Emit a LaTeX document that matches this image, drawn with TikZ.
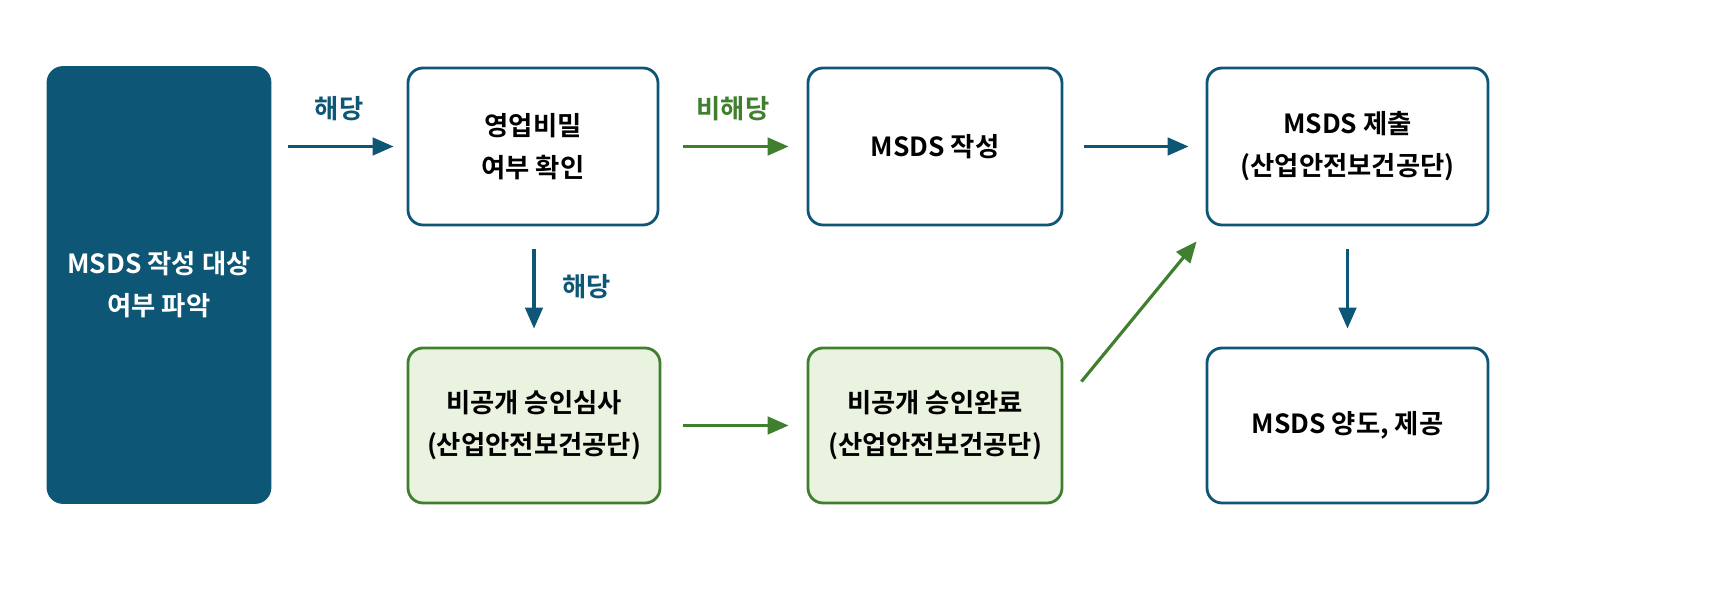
\documentclass[tikz,border=0pt]{standalone}
\usepackage{fontspec}
\setmainfont{Noto Sans CJK KR}[BoldFont={Noto Sans CJK KR Bold}]
\usetikzlibrary{arrows.meta}
\definecolor{navy}{HTML}{0E5676}
\definecolor{leaf}{HTML}{3F7F2E}
\definecolor{paleleaf}{HTML}{EAF2E0}
\tikzset{% common styles of the flow chart
  stage/.style   = {shape=rectangle, rounded corners=0.15cm, draw=navy,
                    line width=0.8pt, fill=white, align=center,
                    font=\fontsize{7.5}{12}\selectfont\bfseries},
  start/.style   = {stage, fill=navy, text=white},
  review/.style  = {stage, draw=leaf, fill=paleleaf},
  bluearr/.style = {draw=navy, line width=0.9pt, -{Triangle[length=6pt,width=5pt]}},
  greenarr/.style= {draw=leaf, line width=0.9pt, -{Triangle[length=6pt,width=5pt]}},
  tag/.style     = {font=\fontsize{7.5}{10}\selectfont\bfseries},
}
\begin{document}
\begin{tikzpicture}
  \useasboundingbox (0,0) rectangle (17.11,6);
  % boxes
  \node [start, minimum width=2.22cm, minimum height=4.35cm] (target) at (1.59,3.15)
        {MSDS 작성 대상\\여부 파악};
  \node [stage, minimum width=2.5cm, minimum height=1.57cm] (secret) at (5.33,4.535)
        {영업비밀\\여부 확인};
  \node [stage, minimum width=2.54cm, minimum height=1.57cm] (write) at (9.35,4.535)
        {MSDS 작성};
  \node [stage, minimum width=2.81cm, minimum height=1.57cm] (submit) at (13.475,4.535)
        {MSDS 제출\\(산업안전보건공단)};
  \node [review, minimum width=2.52cm, minimum height=1.55cm] (exam) at (5.34,1.745)
        {비공개 승인심사\\(산업안전보건공단)};
  \node [review, minimum width=2.54cm, minimum height=1.55cm] (approved) at (9.35,1.745)
        {비공개 승인완료\\(산업안전보건공단)};
  \node [stage, minimum width=2.81cm, minimum height=1.55cm] (deliver) at (13.475,1.745)
        {MSDS 양도, 제공};
  % connectors
  \draw [bluearr, shorten <=0.17cm, shorten >=0.13cm] (target.east |- secret.west) -- (secret.west)
        node [tag, text=navy, midway, above=0.12cm] {해당};
  \draw [greenarr, shorten <=0.24cm, shorten >=0.18cm] (secret) -- (write)
        node [tag, text=leaf, midway, above=0.12cm] {비해당};
  \draw [bluearr, shorten <=0.21cm, shorten >=0.17cm] (write) -- (submit);
  \draw [bluearr, shorten <=0.23cm, shorten >=0.18cm] (secret.south -| exam.north) -- (exam.north)
        node [tag, text=navy, midway, right=0.15cm] {해당};
  \draw [greenarr, shorten <=0.22cm, shorten >=0.18cm] (exam) -- (approved);
  \draw [greenarr] ([shift={(0.18,-0.35)}]approved.north east) -- ([shift={(-0.09,-0.15)}]submit.south west);
  \draw [bluearr, shorten <=0.23cm, shorten >=0.18cm] (submit) -- (deliver);
\end{tikzpicture}
\end{document}
